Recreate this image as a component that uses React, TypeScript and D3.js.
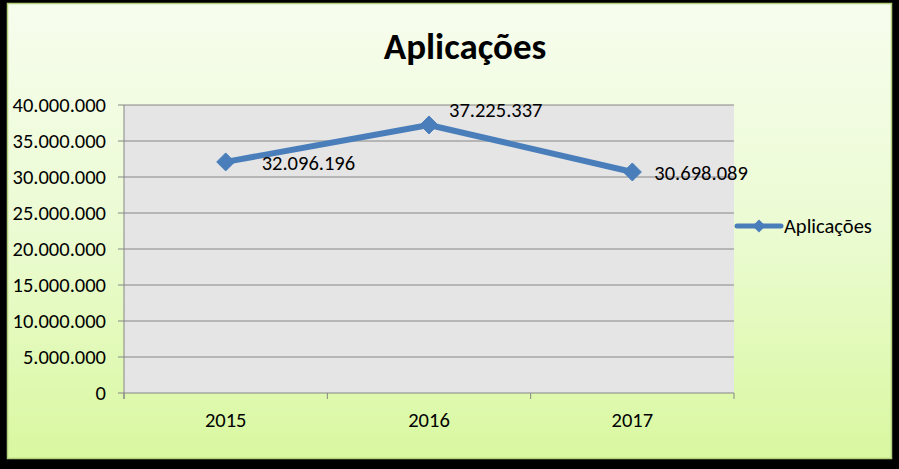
import React from "react";
import * as d3 from "d3";

const categories = ["2015", "2016", "2017"];
const values = [32096196, 37225337, 30698089];
const yTicks = [0, 5000000, 10000000, 15000000, 20000000, 25000000, 30000000, 35000000, 40000000];
const seriesName = "Aplicações";
const title = "Aplicações";

const fmt = (v: number) => {
  const s = Math.round(v).toString();
  return s.replace(/\B(?=(\d{3})+(?!\d))/g, ".");
};

export default function App() {
  const W = 899, H = 469;
  const left = 124, right = 734, top = 105, bottom = 393;
  const x = d3.scaleBand().domain(categories).range([left, right]);
  const y = d3.scaleLinear().domain([0, 40000000]).range([bottom, top]);
  const line = d3.line<number>()
    .x((_, i) => (x(categories[i]) as number) + x.bandwidth() / 2)
    .y((d) => y(d));
  const font = "Carlito, 'Liberation Sans', Arial, sans-serif";
  const blue = "#4a7ebb";
  const fs = 20.5;
  const diamond = (cx: number, cy: number, r: number) =>
    `M${cx},${cy - r}L${cx + r},${cy}L${cx},${cy + r}L${cx - r},${cy}Z`;
  const labelOffsets = [
    { dx: 36, dy: 8 },
    { dx: 20, dy: -8 },
    { dx: 22, dy: 8 },
  ];
  const bounds = [left, ...categories.map((c) => (x(c) as number) + x.bandwidth())];
  return (
    <svg width={W} height={H} style={{ position: "absolute", left: 0, top: 0 }} fontFamily={font}>
      <defs>
        <linearGradient id="bg" x1="0" y1="0" x2="0" y2="1">
          <stop offset="0" stopColor="#f7fdee" />
          <stop offset="0.5" stopColor="#ebfbd2" />
          <stop offset="1" stopColor="#d9f8a0" />
        </linearGradient>
      </defs>
      <rect x={0} y={0} width={W} height={H} fill="#000" />
      <rect x={7.5} y={3.5} width={884} height={455} fill="url(#bg)" stroke="#b3cf7c" strokeWidth={1.5} />
      <text x={465} y={59} textAnchor="middle" fontSize={37} fontWeight="bold" fill="#000">{title}</text>
      <rect x={left} y={top} width={right - left} height={bottom - top} fill="#e5e5e5" />
      {yTicks.map((t) => (
        <g key={t}>
          <line x1={118} x2={right} y1={y(t)} y2={y(t)} stroke="#868686" strokeWidth={1} />
          <text x={106} y={y(t) + 7} textAnchor="end" fontSize={fs} fill="#000">{fmt(t)}</text>
        </g>
      ))}
      <line x1={left} x2={left} y1={top} y2={bottom + 6} stroke="#868686" strokeWidth={1} />
      {bounds.map((b, i) => (
        <line key={i} x1={b} x2={b} y1={bottom} y2={bottom + 6} stroke="#868686" strokeWidth={1} />
      ))}
      {categories.map((c) => (
        <text key={c} x={(x(c) as number) + x.bandwidth() / 2} y={427} textAnchor="middle" fontSize={fs} fill="#000">{c}</text>
      ))}
      <path d={line(values) || ""} fill="none" stroke={blue} strokeWidth={6} strokeLinejoin="round" />
      {values.map((v, i) => {
        const cx = (x(categories[i]) as number) + x.bandwidth() / 2;
        const cy = y(v);
        return <path key={i} d={diamond(cx, cy, 9)} fill={blue} stroke={blue} strokeWidth={1} />;
      })}
      {values.map((v, i) => {
        const cx = (x(categories[i]) as number) + x.bandwidth() / 2;
        const cy = y(v);
        return (
          <text key={i} x={cx + labelOffsets[i].dx} y={cy + labelOffsets[i].dy} fontSize={fs} fill="#000">{fmt(v)}</text>
        );
      })}
      <line x1={737} x2={781} y1={226} y2={226} stroke={blue} strokeWidth={5} strokeLinecap="round" />
      <path d={diamond(759, 226, 6.5)} fill={blue} />
      <text x={784} y={233} fontSize={fs} fill="#000">{seriesName}</text>
    </svg>
  );
}
